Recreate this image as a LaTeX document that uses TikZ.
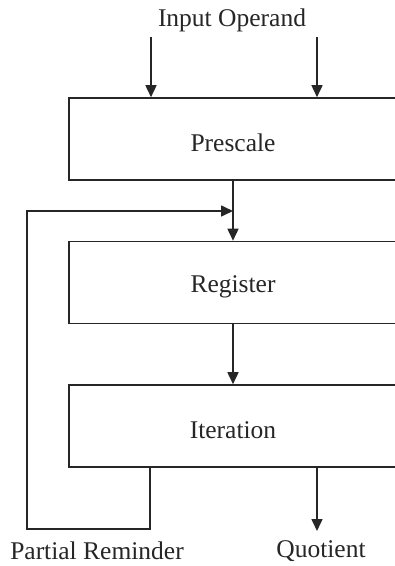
\documentclass[tikz,border=0pt]{standalone}
\usepackage{fontspec}
\setmainfont{Liberation Serif}
\usetikzlibrary{arrows.meta}
\newcommand{\lowertxt}[1]{\raisebox{-4pt}[\height][\depth]{#1}}
\begin{document}
\begin{tikzpicture}[x=1pt,y=-1pt,
  line width=1.6pt, draw=black!85,
  blk/.style={draw, minimum width=328pt, minimum height=82pt, inner sep=0pt, font=\fontsize{25.5}{30}\selectfont, text=black!85},
  lbl/.style={inner sep=0pt, font=\fontsize{25.5}{30}\selectfont, text=black!85},
  arr/.style={-{Triangle[width=11pt,length=12pt]}}]
\useasboundingbox (0,0) rectangle (395,566);
\node[blk] (pre) at (233,139) {\lowertxt{Prescale}};
\node[blk] (reg) at (233,282.5) {\lowertxt{Register}};
\node[blk] (itr) at (233,426) {\lowertxt{Iteration}};
\node[lbl] (in) at (232,20) {Input Operand};
\node[lbl] (pr) at (97,551) {Partial Reminder};
\node[lbl] (quo) at (321,551) {Quotient};
\coordinate (inl) at (151,37);
\coordinate (inr) at (317,37);
\coordinate (qend) at (317,531);
\coordinate (fb1) at (150,529);
\coordinate (fb2) at (27,529);
\coordinate (fb3) at (27,211);
\coordinate (fbm) at (233,211);
\draw[arr] (inl) -- (inl |- pre.north);
\draw[arr] (inr) -- (inr |- pre.north);
\draw[arr] (pre.south) -- (reg.north);
\draw[arr] (reg.south) -- (itr.north);
\draw[arr] (qend |- itr.south) -- (qend);
\draw[arr] (fb1 |- itr.south) -- (fb1) -- (fb2) -- (fb3) -- (fbm);
\end{tikzpicture}
\end{document}
